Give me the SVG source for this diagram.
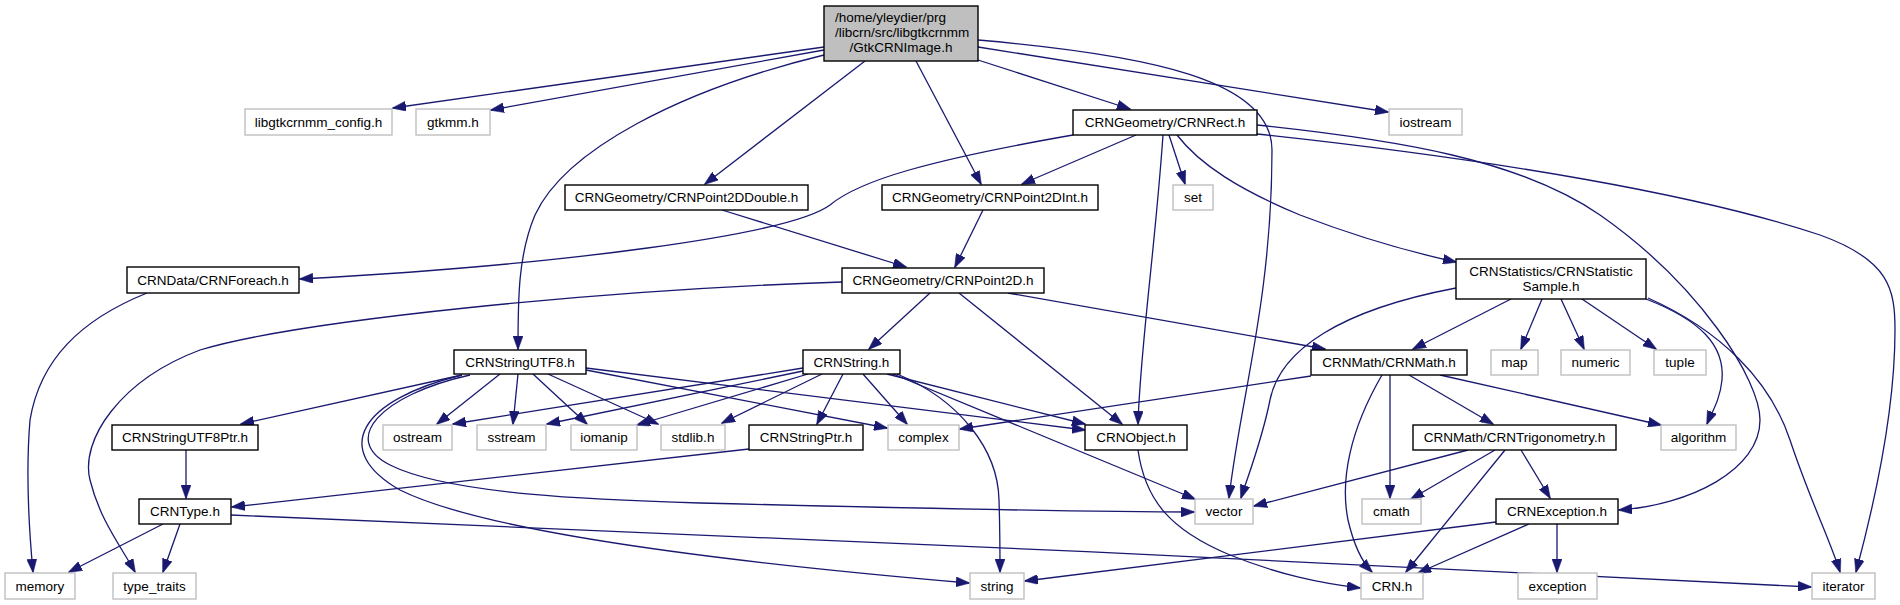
<svg xmlns="http://www.w3.org/2000/svg" width="1900" height="605" viewBox="0 0 1900 605">
<style>
text{font-family:"Liberation Sans",Arial,sans-serif;font-size:13.5px;fill:#000;text-anchor:middle}
.d{fill:#fff;stroke:#000;stroke-width:1.4}
.s{fill:#fff;stroke:#bfbfbf;stroke-width:1.4}
.m{fill:#bfbfbf;stroke:#000;stroke-width:1.4}
.e path{fill:none;stroke:#191970;stroke-width:1.3;marker-end:url(#a)}
</style>
<defs>
<marker id="a" markerUnits="userSpaceOnUse" viewBox="0 0 14 10" markerWidth="14" markerHeight="10" refX="13" refY="5" orient="auto">
<path d="M0,0 L14,5 L0,10 z" fill="#191970" stroke="#191970" stroke-width="0.5"/>
</marker>
</defs>
<rect width="1900" height="605" fill="#fff"/>
<g class="e" id="edges">
<path d="M824,47 L393,108"/>
<path d="M824,50 L491,110"/>
<path d="M824,55 C680,90 565,150 535,215 C518,255 518,300 518,349"/>
<path d="M865,61 L705,184"/>
<path d="M916,61 L981,184"/>
<path d="M978,60 L1130,109"/>
<path d="M978,47 L1388,112"/>
<path d="M978,40 C1150,55 1272,80 1272,150 C1272,300 1240,400 1229,498"/>
<path d="M1073,135 C930,160 860,180 830,205 C790,235 560,265 300,279"/>
<path d="M1136,135 L1022,184"/>
<path d="M1163,135 C1155,250 1140,350 1138,424"/>
<path d="M1169,135 L1185,184"/>
<path d="M1177,135 C1200,165 1240,190 1300,215 C1360,238 1410,252 1456,262"/>
<path d="M1257,125 C1400,140 1520,160 1600,215 C1700,285 1760,380 1760,420 C1760,470 1690,505 1619,510"/>
<path d="M1257,134 C1500,160 1700,195 1820,235 C1890,260 1895,290 1895,330 C1895,420 1870,520 1856,572"/>
<path d="M722,210 L906,267"/>
<path d="M983,210 L955,267"/>
<path d="M147,293 C80,320 40,360 30,420 C25,480 30,540 33,572"/>
<path d="M842,282 C600,290 300,320 200,350 C120,380 80,440 90,480 C100,520 120,545 135,572"/>
<path d="M930,293 L869,349"/>
<path d="M959,293 L1122,424"/>
<path d="M1008,293 L1325,349"/>
<path d="M1456,288 C1340,310 1280,350 1270,400 C1262,440 1250,470 1241,498"/>
<path d="M1511,299 L1413,349"/>
<path d="M1542,299 L1521,349"/>
<path d="M1561,299 L1584,349"/>
<path d="M1582,299 L1656,349"/>
<path d="M1646,299 C1700,320 1725,345 1722,380 C1720,400 1712,412 1707,424"/>
<path d="M1648,298 C1720,330 1770,380 1790,440 C1810,500 1830,540 1840,572"/>
<path d="M1311,376 L960,429"/>
<path d="M1382,375 C1350,430 1340,480 1348,520 C1355,550 1365,565 1372,572"/>
<path d="M1390,375 L1390,498"/>
<path d="M1409,375 L1493,424"/>
<path d="M1440,375 L1661,425"/>
<path d="M462,375 L241,424"/>
<path d="M500,374 L437,424"/>
<path d="M518,374 L513,424"/>
<path d="M533,374 L587,424"/>
<path d="M548,374 L658,424"/>
<path d="M586,370 L887,428"/>
<path d="M586,368 C800,395 1000,420 1085,430"/>
<path d="M470,375 C380,395 340,440 390,465 C450,495 600,500 700,503 C900,508 1100,512 1194,512"/>
<path d="M462,375 C360,400 330,450 400,490 C480,530 700,560 969,583"/>
<path d="M803,368 L453,424"/>
<path d="M803,371 L547,424"/>
<path d="M808,374 L637,425"/>
<path d="M822,374 L722,423"/>
<path d="M843,374 L817,424"/>
<path d="M863,374 L907,424"/>
<path d="M887,374 L1085,424"/>
<path d="M893,374 L1195,499"/>
<path d="M897,374 C960,400 998,450 999,500 C1000,530 1000,555 1000,572"/>
<path d="M186,450 L186,498"/>
<path d="M749,449 L232,507"/>
<path d="M163,524 L69,572"/>
<path d="M180,524 L163,572"/>
<path d="M231,515 C500,524 1400,565 1811,587"/>
<path d="M1138,450 C1145,500 1170,530 1230,555 C1280,575 1320,583 1360,588"/>
<path d="M1468,450 L1254,506"/>
<path d="M1495,450 L1411,499"/>
<path d="M1505,450 L1406,572"/>
<path d="M1521,450 L1550,498"/>
<path d="M1496,522 L1025,581"/>
<path d="M1529,524 L1418,573"/>
<path d="M1557,524 L1557,572"/>
</g>
<g id="n_main"><rect class="m" x="824" y="6" width="154" height="55"/><text x="835" y="22" style="text-anchor:start">/home/yleydier/prg</text><text x="835" y="37" style="text-anchor:start">/libcrn/src/libgtkcrnmm</text><text x="901" y="52">/GtkCRNImage.h</text></g>
<g id="n_libgtk"><rect class="s" x="245" y="109" width="147" height="26"/><text x="318.5" y="126.5">libgtkcrnmm_config.h</text></g>
<g id="n_gtkmm"><rect class="s" x="416" y="109" width="74" height="26"/><text x="453" y="126.5">gtkmm.h</text></g>
<g id="n_rect"><rect class="d" x="1073" y="110" width="184" height="25"/><text x="1165" y="127">CRNGeometry/CRNRect.h</text></g>
<g id="n_iostream"><rect class="s" x="1389" y="109" width="73" height="26"/><text x="1425.5" y="126.5">iostream</text></g>
<g id="n_p2dd"><rect class="d" x="565" y="185" width="243" height="25"/><text x="686.5" y="202">CRNGeometry/CRNPoint2DDouble.h</text></g>
<g id="n_p2di"><rect class="d" x="882" y="185" width="216" height="25"/><text x="990" y="202">CRNGeometry/CRNPoint2DInt.h</text></g>
<g id="n_set"><rect class="s" x="1173" y="185" width="40" height="25"/><text x="1193" y="202">set</text></g>
<g id="n_foreach"><rect class="d" x="127" y="267" width="172" height="26"/><text x="213" y="284.5">CRNData/CRNForeach.h</text></g>
<g id="n_p2d"><rect class="d" x="842" y="268" width="202" height="25"/><text x="943" y="285">CRNGeometry/CRNPoint2D.h</text></g>
<g id="n_stat"><rect class="d" x="1456" y="259" width="190" height="40"/><text x="1551" y="276">CRNStatistics/CRNStatistic</text><text x="1551" y="291">Sample.h</text></g>
<g id="n_utf8"><rect class="d" x="454" y="350" width="132" height="24"/><text x="520" y="366.5">CRNStringUTF8.h</text></g>
<g id="n_string"><rect class="d" x="803" y="350" width="97" height="24"/><text x="851.5" y="366.5">CRNString.h</text></g>
<g id="n_math"><rect class="d" x="1311" y="350" width="156" height="25"/><text x="1389" y="367">CRNMath/CRNMath.h</text></g>
<g id="n_map"><rect class="s" x="1491" y="350" width="47" height="25"/><text x="1514.5" y="367">map</text></g>
<g id="n_numeric"><rect class="s" x="1561" y="350" width="69" height="25"/><text x="1595.5" y="367">numeric</text></g>
<g id="n_tuple"><rect class="s" x="1654" y="350" width="52" height="25"/><text x="1680" y="367">tuple</text></g>
<g id="n_utf8ptr"><rect class="d" x="112" y="425" width="146" height="25"/><text x="185" y="442">CRNStringUTF8Ptr.h</text></g>
<g id="n_ostream"><rect class="s" x="383" y="425" width="69" height="25"/><text x="417.5" y="442">ostream</text></g>
<g id="n_sstream"><rect class="s" x="477" y="425" width="69" height="25"/><text x="511.5" y="442">sstream</text></g>
<g id="n_iomanip"><rect class="s" x="571" y="425" width="66" height="25"/><text x="604" y="442">iomanip</text></g>
<g id="n_stdlib"><rect class="s" x="661" y="425" width="64" height="25"/><text x="693" y="442">stdlib.h</text></g>
<g id="n_strptr"><rect class="d" x="749" y="425" width="114" height="25"/><text x="806" y="442">CRNStringPtr.h</text></g>
<g id="n_complex"><rect class="s" x="888" y="425" width="71" height="25"/><text x="923.5" y="442">complex</text></g>
<g id="n_object"><rect class="d" x="1085" y="425" width="102" height="25"/><text x="1136" y="442">CRNObject.h</text></g>
<g id="n_trig"><rect class="d" x="1413" y="425" width="203" height="25"/><text x="1514.5" y="442">CRNMath/CRNTrigonometry.h</text></g>
<g id="n_algorithm"><rect class="s" x="1661" y="425" width="75" height="25"/><text x="1698.5" y="442">algorithm</text></g>
<g id="n_type"><rect class="d" x="139" y="499" width="92" height="25"/><text x="185" y="516">CRNType.h</text></g>
<g id="n_vector"><rect class="s" x="1195" y="499" width="58" height="25"/><text x="1224" y="516">vector</text></g>
<g id="n_cmath"><rect class="s" x="1362" y="499" width="59" height="25"/><text x="1391.5" y="516">cmath</text></g>
<g id="n_exc"><rect class="d" x="1496" y="499" width="122" height="25"/><text x="1557" y="516">CRNException.h</text></g>
<g id="n_memory"><rect class="s" x="5" y="573" width="70" height="26"/><text x="40" y="590.5">memory</text></g>
<g id="n_typetraits"><rect class="s" x="113" y="573" width="83" height="26"/><text x="154.5" y="590.5">type_traits</text></g>
<g id="n_stringsys"><rect class="s" x="970" y="573" width="54" height="26"/><text x="997" y="590.5">string</text></g>
<g id="n_crnh"><rect class="s" x="1361" y="573" width="62" height="26"/><text x="1392" y="590.5">CRN.h</text></g>
<g id="n_exception"><rect class="s" x="1518" y="573" width="79" height="26"/><text x="1557.5" y="590.5">exception</text></g>
<g id="n_iterator"><rect class="s" x="1812" y="573" width="63" height="26"/><text x="1843.5" y="590.5">iterator</text></g>
</svg>
